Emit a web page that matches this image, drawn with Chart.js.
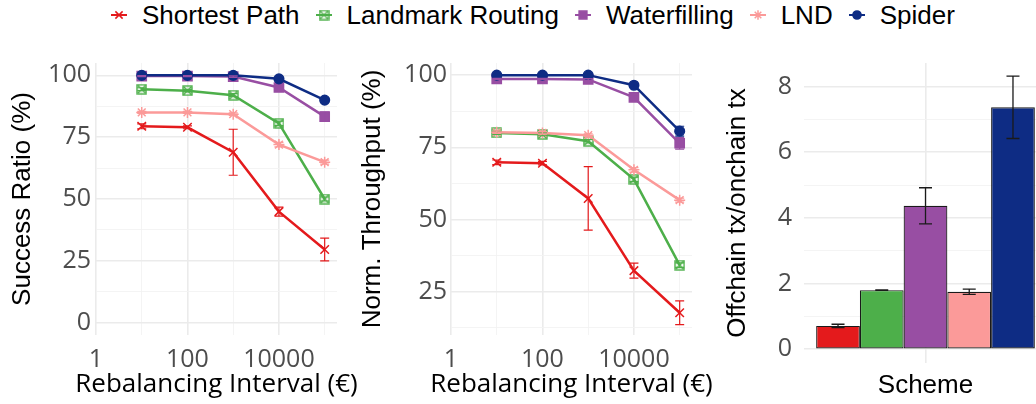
<!DOCTYPE html>
<html>
<head>
<meta charset="utf-8">
<script src="https://cdn.jsdelivr.net/npm/chart.js@4.4.1/dist/chart.umd.min.js"></script>
<style>
  html, body { margin: 0; padding: 0; background: #fff; overflow: hidden; }
  #wrap { position: relative; width: 1036px; height: 404px; overflow: hidden; }
  .panel { position: absolute; top: 50px; height: 354px; }
  #legend { position: absolute; left: 108px; top: 0; height: 30px; display: flex; align-items: center;
            font-family: "Liberation Sans", Arial, sans-serif; font-size: 26px; line-height: 30px; color: #000; white-space: nowrap; }
  #legend .item { display: flex; align-items: center; margin-right: 13px; }
  #legend canvas { width: 22px; height: 30px; margin-right: 12px; }
</style>
</head>
<body>
<div id="wrap">
  <div id="legend"></div>
  <div class="panel" style="left:0; width:365px;"><canvas id="successChart"></canvas></div>
  <div class="panel" style="left:350px; width:365px;"><canvas id="throughputChart"></canvas></div>
  <div class="panel" style="left:700px; width:360px;"><canvas id="ratioChart"></canvas></div>
</div>
<script>
// --- Données ---
const SCHEMES = ['Shortest Path', 'Landmark Routing', 'Waterfilling', 'LND', 'Spider'];
const COLORS = ['#E41A1C', '#4DAF4A', '#984EA3', '#FB9A99', '#0E2C84'];

// Intervalle de rééquilibrage (€)
const X_VALUES = [10, 100, 1000, 10000, 100000];
const X_TICKS = [1, 10, 100, 1000, 10000, 100000];
const X_LABELS = [1, 100, 10000];

// Success Ratio (%)
const SR_SHORTEST = [79.4, 79.0, 68.9, 44.9, 29.6];
const SR_LANDMARK = [94.4, 93.8, 92.0, 80.6, 50.0];
const SR_WATERFILL = [99.7, 99.7, 99.5, 95.1, 83.3];
const SR_LND = [85.0, 85.0, 84.3, 72.0, 64.9];
const SR_SPIDER = [100, 100, 100, 98.6, 90.0];
const SR_SHORTEST_ERR = [1.0, 0.6, 9.3, 1.8, 4.6];
const SR_LANDMARK_ERR = [0.6, 0.5, 0.6, 0.9, 0.8];
const SR_WATERFILL_ERR = [0.2, 0.2, 0.3, 0.8, 1.8];
const SR_LND_ERR = [0.4, 0.4, 0.5, 0.9, 0.8];
const SR_SPIDER_ERR = [0, 0, 0, 0.5, 0.9];
const SR_Y_TICKS = [0, 12.5, 25, 37.5, 50, 62.5, 75, 87.5, 100];
const SR_Y_LABELS = [0, 25, 50, 75, 100];

// Norm. Throughput (%)
const TP_SHORTEST = [69.8, 69.5, 57.3, 32.3, 17.7];
const TP_LANDMARK = [80.0, 79.5, 77.1, 63.9, 34.2];
const TP_WATERFILL = [98.7, 98.7, 98.5, 92.3, 76.4];
const TP_LND = [80.2, 80.0, 79.2, 67.2, 56.7];
const TP_SPIDER = [100, 100, 100, 96.5, 80.6];
const TP_SHORTEST_ERR = [0.8, 0.6, 11.0, 2.6, 4.1];
const TP_LANDMARK_ERR = [0.5, 0.5, 0.6, 0.8, 0.8];
const TP_WATERFILL_ERR = [0.2, 0.2, 0.3, 0.8, 2.0];
const TP_LND_ERR = [0.4, 0.4, 0.5, 0.8, 0.7];
const TP_SPIDER_ERR = [0, 0, 0, 0.6, 1.7];
const TP_Y_TICKS = [12.5, 25, 37.5, 50, 62.5, 75, 87.5, 100];
const TP_Y_LABELS = [25, 50, 75, 100];

// Offchain tx / onchain tx
const OFFCHAIN_RATIO = [0.71, 1.80, 4.37, 1.75, 7.37];
const OFFCHAIN_ERR = [0.05, 0.01, 0.55, 0.08, 0.95];
const RATIO_Y_TICKS = [0, 1, 2, 3, 4, 5, 6, 7, 8];
const RATIO_Y_LABELS = [0, 2, 4, 6, 8];

// --- Styles ---
const GRID_MAJOR = '#EBEBEB';
const GRID_MINOR = '#F3F3F3';
const X_TICK_FONT = { family: '"Open Sans", sans-serif', size: 25, lineHeight: 1 };
// lineHeight minuscule : évite que Chart.js ne repousse la zone de tracé vers le bas
const Y_TICK_FONT = { family: '"Open Sans", sans-serif', size: 25, lineHeight: 0.05 };
const TITLE_FONT = { family: '"Liberation Sans", Arial, sans-serif', size: 26, lineHeight: 1.2 };

// Marqueur "carré barré" (shape 7 de ggplot)
function squareCross(color, size) {
    const c = document.createElement('canvas');
    c.width = size; c.height = size;
    const g = c.getContext('2d');
    g.strokeStyle = color;
    g.lineWidth = 1.4;
    g.strokeRect(1, 1, size - 2, size - 2);
    g.beginPath();
    g.moveTo(1.5, 1.5); g.lineTo(size - 1.5, size - 1.5);
    g.moveTo(size - 1.5, 1.5); g.lineTo(1.5, size - 1.5);
    g.stroke();
    return c;
}

const MARKERS = [
    { style: 'crossRot', radius: 6 },
    { style: squareCross(COLORS[1], 11), radius: 5.5 },
    { style: 'rect', radius: 6.5 },
    { style: 'star', radius: 5.5 },
    { style: 'circle', radius: 4.8 }
];

// Barres d'erreur dessinées à partir des échelles du graphique
const errorBars = {
    id: 'errorBars',
    afterDatasetsDraw(chart) {
        const { ctx } = chart;
        const yScale = chart.scales.y;
        chart.data.datasets.forEach((ds, i) => {
            if (!ds.errors) return;
            const meta = chart.getDatasetMeta(i);
            ctx.save();
            ctx.strokeStyle = ds.errorColor || ds.borderColor;
            ctx.lineWidth = ds.errorWidth || 1.2;
            meta.data.forEach((el, j) => {
                const e = ds.errors[j];
                if (!e) return;
                const raw = ds.data[j];
                const v = typeof raw === 'object' ? raw.y : raw;
                const top = yScale.getPixelForValue(v + e);
                const bot = yScale.getPixelForValue(v - e);
                const hw = ds.capWidth / 2;
                ctx.beginPath();
                ctx.moveTo(el.x, top); ctx.lineTo(el.x, bot);
                ctx.moveTo(el.x - hw, top); ctx.lineTo(el.x + hw, top);
                ctx.moveTo(el.x - hw, bot); ctx.lineTo(el.x + hw, bot);
                ctx.stroke();
            });
            ctx.restore();
        });
    }
};

// Titre de l'axe x sans limite de largeur (le titre de Chart.js est compressé à la largeur de l'axe)
const bottomTitle = {
    id: 'bottomTitle',
    afterDraw(chart, args, opts) {
        const { ctx, chartArea } = chart;
        ctx.save();
        ctx.font = '26px "Open Sans", sans-serif';
        ctx.fillStyle = '#000';
        ctx.textAlign = 'center';
        ctx.textBaseline = 'middle';
        ctx.fillText(opts.text, (chartArea.left + chartArea.right) / 2, chart.height - opts.offset);
        ctx.restore();
    }
};

function gridStyle(majors) {
    return {
        color: c => majors.includes(c.tick.value) ? GRID_MAJOR : GRID_MINOR,
        lineWidth: c => majors.includes(c.tick.value) ? 1.6 : 0.9,
        drawTicks: false
    };
}

function lineSeries(values, errors) {
    return SCHEMES.map((name, i) => ({
        label: name,
        data: X_VALUES.map((x, j) => ({ x: x, y: values[i][j] })),
        errors: errors[i],
        borderColor: COLORS[i],
        backgroundColor: COLORS[i],
        pointBackgroundColor: COLORS[i],
        pointBorderColor: COLORS[i],
        pointStyle: MARKERS[i].style,
        pointRadius: MARKERS[i].radius,
        pointBorderWidth: 1.5,
        borderWidth: 2.5,
        capWidth: 9,
        order: SCHEMES.length - i
    }));
}

function lineOptions(cfg) {
    return {
        responsive: true,
        maintainAspectRatio: false,
        animation: false,
        layout: { padding: { left: 0, right: cfg.rightPad, top: 13, bottom: 0 } },
        plugins: {
            legend: { display: false },
            tooltip: { enabled: false },
            bottomTitle: { text: 'Rebalancing Interval (€)', offset: 19 }
        },
        scales: {
            x: {
                type: 'logarithmic',
                min: 1,
                max: 186000,
                afterBuildTicks: s => { s.ticks = X_TICKS.map(v => ({ value: v })); },
                afterFit: s => { s.height = 69; },
                grid: gridStyle(X_LABELS),
                border: { display: false },
                ticks: {
                    autoSkip: false, maxRotation: 0, minRotation: 0, padding: 12,
                    color: '#4D4D4D', font: X_TICK_FONT,
                    callback: v => X_LABELS.includes(v) ? String(v) : ''
                }
            },
            y: {
                min: cfg.min,
                max: cfg.max,
                afterBuildTicks: s => { s.ticks = cfg.ticks.map(v => ({ value: v })); },
                afterFit: s => { s.width = cfg.width; },
                grid: gridStyle(cfg.labels),
                border: { display: false },
                ticks: {
                    padding: cfg.tickPad, color: '#4D4D4D', font: Y_TICK_FONT,
                    callback: v => cfg.labels.includes(v) ? String(v) : ''
                },
                title: { display: true, text: cfg.title, color: '#000', font: TITLE_FONT, padding: { top: cfg.titlePad, bottom: 0 } }
            }
        }
    };
}

// --- Légende ---
const legendEl = document.getElementById('legend');
SCHEMES.forEach((name, i) => {
    const item = document.createElement('div');
    item.className = 'item';
    const key = document.createElement('canvas');
    key.width = 22; key.height = 30;
    const g = key.getContext('2d');
    g.strokeStyle = COLORS[i];
    g.fillStyle = COLORS[i];
    g.lineWidth = 2;
    g.beginPath(); g.moveTo(3, 15); g.lineTo(19, 15); g.stroke();
    g.lineWidth = 1.5;
    if (Chart.helpers && Chart.helpers.drawPoint) {
        Chart.helpers.drawPoint(g, { pointStyle: MARKERS[i].style, radius: MARKERS[i].radius * 0.85, borderWidth: 1.5, rotation: 0 }, 11, 15);
    }
    const label = document.createElement('span');
    label.textContent = name;
    item.appendChild(key);
    item.appendChild(label);
    legendEl.appendChild(item);
});

// --- Graphiques ---
new Chart(document.getElementById('successChart'), {
    type: 'line',
    data: {
        datasets: lineSeries(
            [SR_SHORTEST, SR_LANDMARK, SR_WATERFILL, SR_LND, SR_SPIDER],
            [SR_SHORTEST_ERR, SR_LANDMARK_ERR, SR_WATERFILL_ERR, SR_LND_ERR, SR_SPIDER_ERR])
    },
    options: lineOptions({ min: -5, max: 105, ticks: SR_Y_TICKS, labels: SR_Y_LABELS, title: 'Success Ratio (%)', width: 96, tickPad: 5, titlePad: 7, rightPad: 28 }),
    plugins: [errorBars, bottomTitle]
});

new Chart(document.getElementById('throughputChart'), {
    type: 'line',
    data: {
        datasets: lineSeries(
            [TP_SHORTEST, TP_LANDMARK, TP_WATERFILL, TP_LND, TP_SPIDER],
            [TP_SHORTEST_ERR, TP_LANDMARK_ERR, TP_WATERFILL_ERR, TP_LND_ERR, TP_SPIDER_ERR])
    },
    options: lineOptions({ min: 10, max: 104.2, ticks: TP_Y_TICKS, labels: TP_Y_LABELS, title: 'Norm. Throughput (%)', width: 101, tickPad: 4, titlePad: 7, rightPad: 23 }),
    plugins: [errorBars, bottomTitle]
});

new Chart(document.getElementById('ratioChart'), {
    type: 'bar',
    data: {
        labels: [''],
        datasets: SCHEMES.map((name, i) => ({
            label: name,
            data: [OFFCHAIN_RATIO[i]],
            errors: [OFFCHAIN_ERR[i]],
            backgroundColor: COLORS[i],
            borderColor: '#1A1A1A',
            borderWidth: 1.2,
            borderSkipped: false,
            categoryPercentage: 0.9,
            barPercentage: 1,
            errorColor: '#1A1A1A',
            errorWidth: 1.3,
            capWidth: 13
        }))
    },
    options: {
        responsive: true,
        maintainAspectRatio: false,
        animation: false,
        layout: { padding: { left: 0, right: 13, top: 13, bottom: 0 } },
        plugins: { legend: { display: false }, tooltip: { enabled: false } },
        scales: {
            x: {
                afterFit: s => { s.height = 41; },
                grid: { offset: false, color: GRID_MAJOR, lineWidth: 1.6, drawTicks: false },
                border: { display: false },
                ticks: { display: false },
                title: { display: true, text: 'Scheme', color: '#000', font: TITLE_FONT, padding: { top: 0, bottom: 3 } }
            },
            y: {
                min: -0.42,
                max: 8.72,
                afterBuildTicks: s => { s.ticks = RATIO_Y_TICKS.map(v => ({ value: v })); },
                afterFit: s => { s.width = 104; },
                grid: gridStyle(RATIO_Y_LABELS),
                border: { display: false },
                ticks: {
                    padding: 12, color: '#4D4D4D', font: Y_TICK_FONT,
                    callback: v => RATIO_Y_LABELS.includes(v) ? String(v) : ''
                },
                title: { display: true, text: 'Offchain tx/onchain tx', color: '#000', font: TITLE_FONT, padding: { top: 22, bottom: 0 } }
            }
        }
    },
    plugins: [errorBars]
});
</script>
</body>
</html>
